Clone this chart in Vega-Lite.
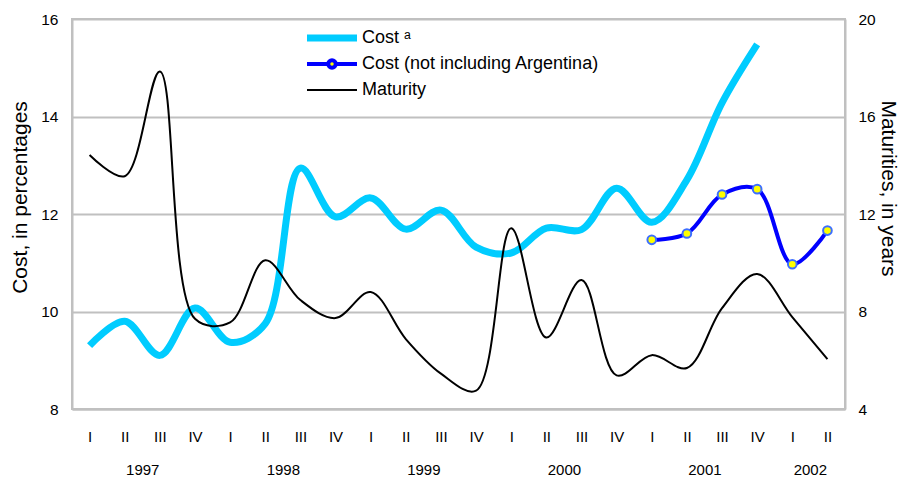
{
  "$schema": "https://vega.github.io/schema/vega-lite/v6.json",
  "width": 773,
  "height": 390,
  "autosize": {"type": "none"},
  "padding": {"left": 72, "top": 19, "right": 55, "bottom": 70},
  "background": "white",
  "config": {
    "view": {"stroke": "#C0C0C0", "strokeWidth": 2},
    "font": "Liberation Sans",
    "axis": {"labelFont": "Liberation Sans", "titleFont": "Liberation Sans", "labelColor": "#000", "titleColor": "#000", "titleFontWeight": "normal", "domainColor": "#C0C0C0", "domainWidth": 2, "gridColor": "#C0C0C0", "gridWidth": 2, "ticks": false, "tickSize": 0}
  },
  "datasets": {
    "rows": [
      {"q": 0, "series": "Cost ᵃ", "value": 9.30},
      {"q": 1, "series": "Cost ᵃ", "value": 9.80},
      {"q": 2, "series": "Cost ᵃ", "value": 9.10},
      {"q": 3, "series": "Cost ᵃ", "value": 10.07},
      {"q": 4, "series": "Cost ᵃ", "value": 9.37},
      {"q": 5, "series": "Cost ᵃ", "value": 9.75},
      {"q": 6, "series": "Cost ᵃ", "value": 12.94},
      {"q": 7, "series": "Cost ᵃ", "value": 11.94},
      {"q": 8, "series": "Cost ᵃ", "value": 12.33},
      {"q": 9, "series": "Cost ᵃ", "value": 11.69},
      {"q": 10, "series": "Cost ᵃ", "value": 12.08},
      {"q": 11, "series": "Cost ᵃ", "value": 11.32},
      {"q": 12, "series": "Cost ᵃ", "value": 11.20},
      {"q": 13, "series": "Cost ᵃ", "value": 11.71},
      {"q": 14, "series": "Cost ᵃ", "value": 11.68},
      {"q": 15, "series": "Cost ᵃ", "value": 12.53},
      {"q": 16, "series": "Cost ᵃ", "value": 11.83},
      {"q": 17, "series": "Cost ᵃ", "value": 12.70},
      {"q": 18, "series": "Cost ᵃ", "value": 14.28},
      {"q": 19, "series": "Cost ᵃ", "value": 15.48},
      {"q": 16, "series": "Cost (not including Argentina)", "value": 11.47},
      {"q": 17, "series": "Cost (not including Argentina)", "value": 11.60},
      {"q": 18, "series": "Cost (not including Argentina)", "value": 12.40},
      {"q": 19, "series": "Cost (not including Argentina)", "value": 12.51},
      {"q": 20, "series": "Cost (not including Argentina)", "value": 10.97},
      {"q": 21, "series": "Cost (not including Argentina)", "value": 11.66},
      {"q": 0, "series": "Maturity", "value": 14.42},
      {"q": 1, "series": "Maturity", "value": 13.55},
      {"q": 2, "series": "Maturity", "value": 17.85},
      {"q": 3, "series": "Maturity", "value": 7.7},
      {"q": 4, "series": "Maturity", "value": 7.55},
      {"q": 5, "series": "Maturity", "value": 10.1},
      {"q": 6, "series": "Maturity", "value": 8.47},
      {"q": 7, "series": "Maturity", "value": 7.73},
      {"q": 8, "series": "Maturity", "value": 8.8},
      {"q": 9, "series": "Maturity", "value": 6.87},
      {"q": 10, "series": "Maturity", "value": 5.45},
      {"q": 11, "series": "Maturity", "value": 4.75},
      {"q": 12, "series": "Maturity", "value": 11.42},
      {"q": 13, "series": "Maturity", "value": 6.93},
      {"q": 14, "series": "Maturity", "value": 9.29},
      {"q": 15, "series": "Maturity", "value": 5.38},
      {"q": 16, "series": "Maturity", "value": 6.21},
      {"q": 17, "series": "Maturity", "value": 5.68},
      {"q": 18, "series": "Maturity", "value": 8.14},
      {"q": 19, "series": "Maturity", "value": 9.54},
      {"q": 20, "series": "Maturity", "value": 7.77},
      {"q": 21, "series": "Maturity", "value": 6.05}
    ]
  },
  "data": {"name": "rows"},
  "resolve": {"scale": {"y": "independent"}, "axis": {"y": "independent", "x": "independent"}},
  "layer": [
    {
      "encoding": {
        "x": {"field": "q", "type": "quantitative", "scale": {"domain": [-0.5, 21.5], "nice": false, "zero": false},
          "axis": {"title": null, "orient": "bottom", "values": [0,1,2,3,4,5,6,7,8,9,10,11,12,13,14,15,16,17,18,19,20,21], "labelExpr": "['I','II','III','IV'][datum.value % 4]", "labelFontSize": 15, "labelPadding": 20, "grid": false, "domain": true}},
        "y": {"field": "value", "type": "quantitative", "scale": {"domain": [8, 16], "nice": false, "zero": false},
          "axis": {"title": "Cost, in percentages", "values": [8, 10, 12, 14, 16], "labelFontSize": 15.5, "labelPadding": 14, "grid": true, "titleFontSize": 21, "titleX": -52, "titleY": 178, "titleBaseline": "middle", "titleAngle": -90}},
        "color": {"field": "series", "type": "nominal",
          "scale": {"domain": ["Cost ᵃ", "Cost (not including Argentina)", "Maturity"], "range": ["#00CCFF", "#0000FF", "#000000"]},
          "legend": {"title": null, "orient": "none", "legendX": 251, "legendY": 10, "symbolType": "M-2,0L2,0", "symbolSize": 625, "labelFontSize": 18, "labelFont": "Liberation Sans", "labelColor": "#000", "labelOffset": 21, "labelLimit": 500, "rowPadding": 0, "gridAlign": "all",
            "encode": {"symbols": {"update": {
              "strokeWidth": {"signal": "datum.value === 'Maturity' ? 2 : (datum.value === 'Cost ᵃ' ? 7 : 4)"},
              "shape": {"signal": "datum.value === 'Cost (not including Argentina)' ? 'M-2,0L-0.36,0M0.36,0L2,0M-0.3,0A0.3,0.3 0 1 1 0.3,0A0.3,0.3 0 1 1 -0.3,0Z' : 'M-2,0L2,0'"},
              "fill": {"signal": "datum.value === 'Cost (not including Argentina)' ? '#FFFF00' : 'transparent'"}
            }}}}
        }
      },
      "layer": [
        {"transform": [{"filter": "datum.series === 'Cost ᵃ'"}], "mark": {"type": "line", "strokeWidth": 7, "interpolate": "catmull-rom"}},
        {"transform": [{"filter": "datum.series === 'Cost (not including Argentina)'"}], "mark": {"type": "line", "strokeWidth": 4, "interpolate": "catmull-rom"}},
        {"transform": [{"filter": "datum.series === 'Cost (not including Argentina)'"}], "mark": {"type": "point", "filled": true, "fill": "#FFFF00", "stroke": "#3C6EFF", "strokeWidth": 2, "size": 75, "opacity": 1}, "encoding": {"color": {"value": "#3C6EFF"}, "fill": {"value": "#FFFF00"}}}
      ]
    },
    {
      "transform": [{"filter": "datum.series === 'Maturity'"}],
      "mark": {"type": "line", "strokeWidth": 2, "interpolate": "catmull-rom"},
      "encoding": {
        "x": {"field": "q", "type": "quantitative", "scale": {"domain": [-0.5, 21.5], "nice": false, "zero": false},
          "axis": {"title": null, "orient": "bottom", "values": [1.5, 5.5, 9.5, 13.5, 17.5, 20.5], "labelExpr": "'' + (1997 + floor((datum.value + 0.5) / 4))", "labelFontSize": 15, "labelPadding": 53, "grid": false, "domain": false}},
        "y": {"field": "value", "type": "quantitative", "scale": {"domain": [4, 20], "nice": false, "zero": false},
          "axis": {"title": "Maturities, in years", "orient": "right", "values": [4, 8, 12, 16, 20], "labelFontSize": 15.5, "labelPadding": 13, "grid": false, "titleFontSize": 21, "titleX": 42, "titleY": 169, "titleBaseline": "middle", "titleAngle": 90}},
        "color": {"field": "series", "type": "nominal"}
      }
    }
  ]
}
